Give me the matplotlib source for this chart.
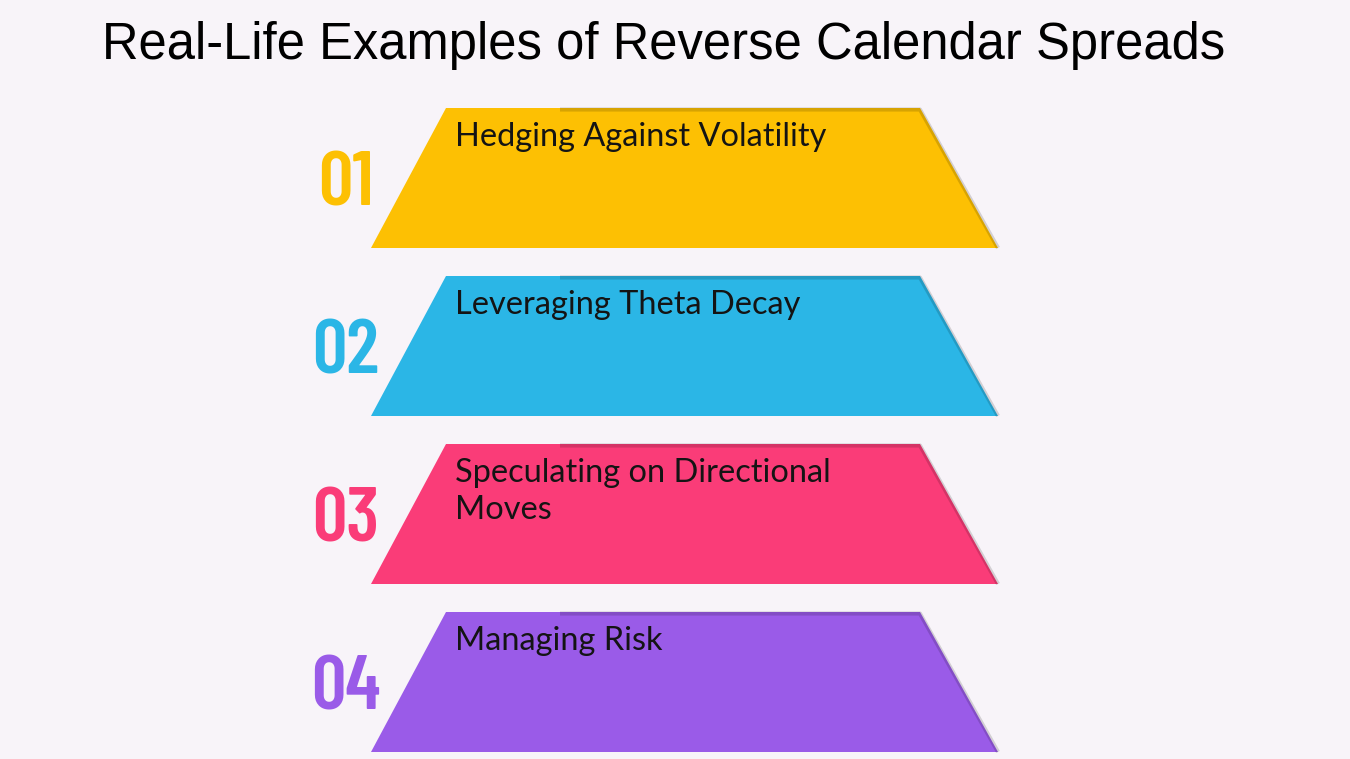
import matplotlib.pyplot as plt
from matplotlib.patches import Polygon

title = "Real-Life Examples of Reverse Calendar Spreads"
numbers = ["01", "02", "03", "04"]
labels = ["Hedging Against Volatility", "Leveraging Theta Decay",
          "Speculating on Directional\nMoves", "Managing Risk"]
colors = ["#FDC003", "#2BB6E6", "#FA3C78", "#9A5BE8"]

fig = plt.figure(figsize=(13.5, 7.59), dpi=100)
fig.patch.set_facecolor("#F8F4F9")
ax = fig.add_axes([0, 0, 1, 1])
ax.set_xlim(0, 1350)
ax.set_ylim(759, 0)
ax.axis("off")

ax.text(664, 45, title, fontsize=36.5, family="Liberation Sans",
        ha="center", va="center", color="black")

top_y, step, height = 108, 168, 140
for i, (num, lab, col) in enumerate(zip(numbers, labels, colors)):
    y0 = top_y + i * step
    y1 = y0 + height
    trap = Polygon([(446, y0), (920, y0), (998, y1), (371, y1)],
                   closed=True, facecolor=col, edgecolor="none")
    ax.add_patch(trap)
    # soft shadow on the top and right edges
    ax.plot([560, 920, 998], [y0 + 1.5, y0 + 1.5, y1], color="black",
            alpha=0.15, lw=3, solid_capstyle="butt")
    ax.text(455, y0 + 14, lab, fontsize=23.4, family="Lato", va="top",
            ha="left", color="#141414", linespacing=1.3)
    ax.text(346, y0 + 78, num, fontsize=55,
            family=["Barlow Condensed", "DejaVu Sans"], fontweight=600,
            color=col, ha="center", va="center")

fig.savefig("out.png", dpi=100, facecolor=fig.get_facecolor())
